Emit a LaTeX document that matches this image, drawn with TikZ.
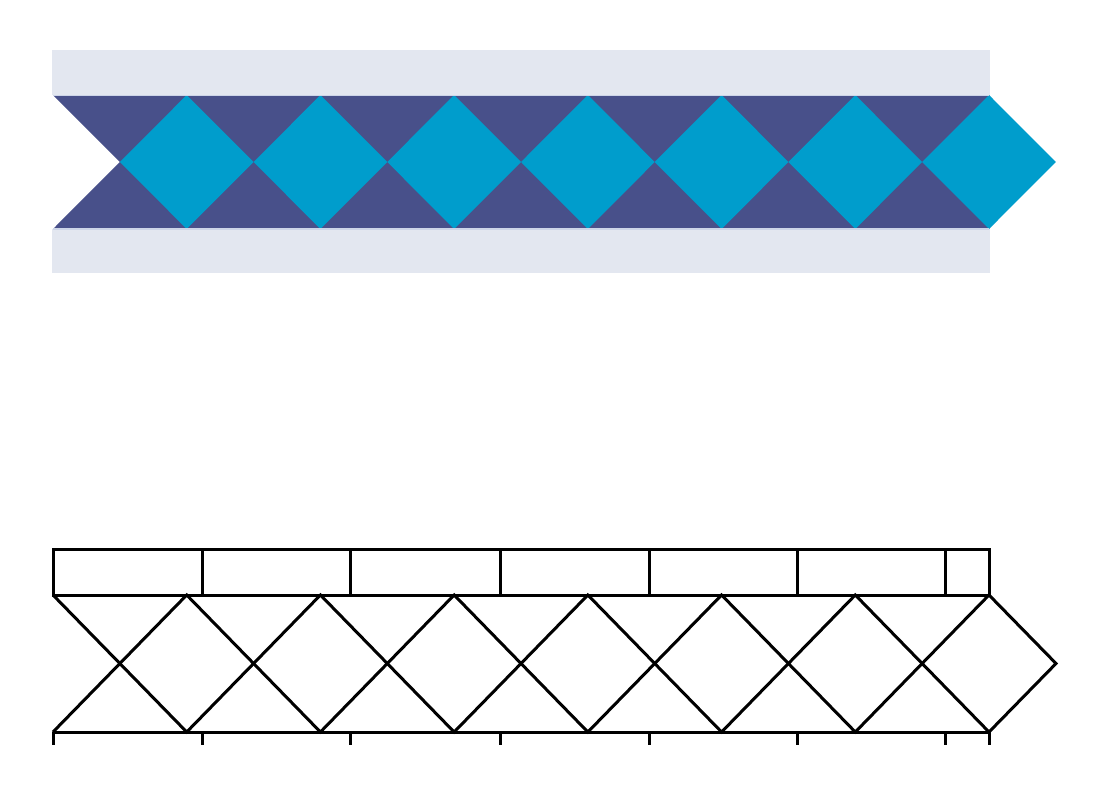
\documentclass[tikz,border=0pt]{standalone}
\definecolor{bandc}{HTML}{E3E7F0}
\definecolor{navy}{HTML}{48508A}
\definecolor{cyanc}{HTML}{009DCC}
\definecolor{seam}{HTML}{CDD5E8}
\begin{document}
\begin{tikzpicture}[x=1pt,y=-1pt,
  ink/.style={line width=3pt,line join=miter,black},
  tick/.style={line width=3pt,black}]
\useasboundingbox (0,0) rectangle (1108,785);
\fill[white] (0,0) rectangle (1108,785);
\pgfmathsetmacro{\p}{936/7}
% ---------- coloured strip ----------
\fill[bandc] (52,50) rectangle (990,95);
\fill[bandc] (52,229) rectangle (990,273);
\fill[navy] (53,95) -- (989,95) -- (989,229) -- (53,229) -- (53+\p/2,162) -- cycle;
\foreach \k in {1,...,7}{
  \pgfmathsetmacro{\cx}{53+\k*\p}
  \fill[cyanc] (\cx-\p/2,162) -- (\cx,95) -- (\cx+\p/2,162) -- (\cx,229) -- cycle;
}
\draw[seam,line width=1.2pt] (53,95.5) -- (989,95.5);
\draw[seam,line width=1.2pt] (53,229) -- (989,229);
% ---------- line drawing ----------
\draw[ink] (53,549) rectangle (989,595);
\foreach \x in {202,350,500,649,797,945}{
  \draw[ink] (\x,549) -- (\x,595);
}
\draw[ink] (53,732) -- (989,732);
\foreach \x in {53,202,350,500,649,797,945,989}{
  \draw[tick] (\x,732) -- (\x,745);
}
% zigzags
\draw[ink] (53,595)
  \foreach \k in {1,...,7}{ -- ({53+\k*\p},{ifthenelse(mod(\k,2)==1,732,595)}) };
\draw[ink] (53,732)
  \foreach \k in {1,...,7}{ -- ({53+\k*\p},{ifthenelse(mod(\k,2)==1,595,732)}) };
\draw[ink] (989,595) -- (1056,663.5) -- (989,732);
\end{tikzpicture}
\end{document}
